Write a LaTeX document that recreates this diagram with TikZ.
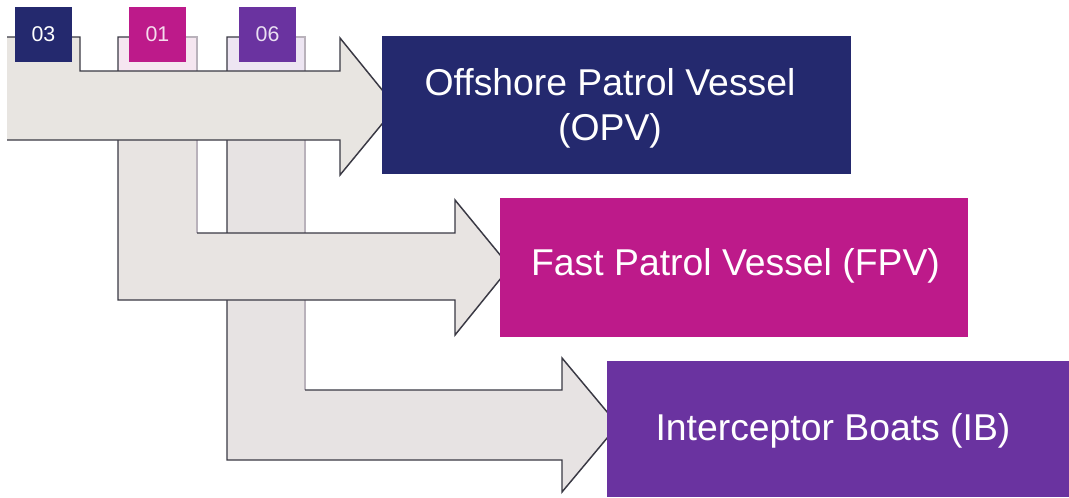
\documentclass[tikz,border=0pt]{standalone}
\usepackage{fontspec}
\setmainfont{Liberation Sans}
\definecolor{navy}{HTML}{24296E}
\definecolor{mag}{HTML}{BD1A8A}
\definecolor{purp}{HTML}{6A33A0}
\definecolor{fillA}{HTML}{E8E5E1}
\definecolor{fillB}{HTML}{E8E4E2}
\definecolor{fillC}{HTML}{E7E3E3}
\definecolor{tintB}{HTML}{F5E6F0}
\definecolor{tintC}{HTML}{EDE5F2}
\definecolor{edgedk}{HTML}{3A3944}
\definecolor{edgelt}{HTML}{B9B2BB}
\tikzset{
  dk/.style={draw=edgedk, line width=1.1pt, line join=miter},
  lt/.style={draw=edgelt, line width=1pt},
  tag/.style={minimum width=42.75pt, minimum height=41.25pt, inner sep=0pt, font=\fontsize{16}{18}\selectfont},
  box/.style={minimum width=#1, inner sep=0pt},
  boxtext/.style={text=white, font=\fontsize{28}{33.75}\selectfont, anchor=base, inner sep=0pt}
}
\begin{document}
\begin{tikzpicture}[x=0.75pt,y=-0.75pt]
\useasboundingbox (0,0) rectangle (1069,497);
\fill[white] (0,0) rectangle (1069,497);

% arrow 3 (IB)
\fill[fillC] (227,37) -- (305,37) -- (305,390) -- (562,390) -- (562,358) -- (618,425) -- (562,492) -- (562,460) -- (227,460) -- cycle;
\fill[tintC] (227,37) rectangle (305,71);
\draw[lt] (305,390) -- (305,37) -- (270,37);
\draw[dk] (270,37) -- (227,37) -- (227,460) -- (562,460) -- (562,492) -- (618,425) -- (562,358) -- (562,390) -- (305,390);

% arrow 2 (FPV)
\fill[fillB] (118,37) -- (197,37) -- (197,233) -- (455,233) -- (455,200) -- (510,267) -- (455,335) -- (455,300) -- (118,300) -- cycle;
\fill[tintB] (118,37) rectangle (197,71);
\draw[lt] (197,233) -- (197,37) -- (160,37);
\draw[dk] (160,37) -- (118,37) -- (118,300) -- (455,300) -- (455,335) -- (510,267) -- (455,200) -- (455,233) -- (197,233);

% arrow 1 (OPV)
\fill[fillA] (7,37) -- (80,37) -- (80,71) -- (340,71) -- (340,38) -- (396,107) -- (340,175) -- (340,140) -- (7,140) -- cycle;
\draw[dk] (7,37) -- (80,37) -- (80,71) -- (340,71) -- (340,38) -- (396,107) -- (340,175) -- (340,140) -- (7,140);

% boxes
\node[box=351.75pt, minimum height=103.5pt, fill=navy] (opv) at (616.5,105) {};
\node[box=351pt, minimum height=104.25pt, fill=mag] (fpv) at (734,267.5) {};
\node[box=346.5pt, minimum height=102pt, fill=purp] (ib) at (838,429) {};

\node[boxtext] (opvt1) at (610,95) {Offshore Patrol Vessel};
\node[boxtext] (opvt2) at (610,140) {(OPV)};
\node[boxtext] (fpvt) at (735.5,275) {Fast Patrol Vessel (FPV)};
\node[boxtext] (ibt) at (833,440) {Interceptor Boats (IB)};

% tags
\node[tag, fill=navy, text=white] (t03) at (43.5,34.5) {03};
\node[tag, fill=mag, text=white!85!mag] (t01) at (157.5,34.5) {01};
\node[tag, fill=purp, text=white!85!purp] (t06) at (267.5,34.5) {06};
\end{tikzpicture}
\end{document}
